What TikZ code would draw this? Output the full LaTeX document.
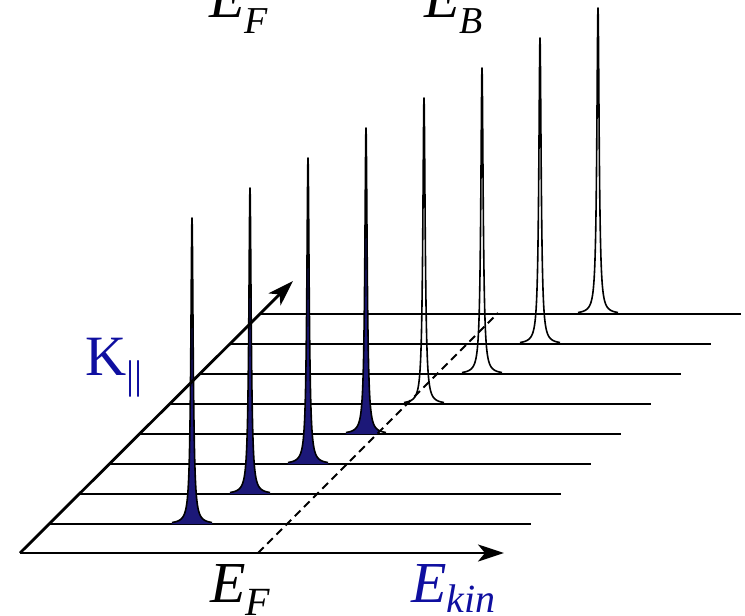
\documentclass[tikz,border=0pt]{standalone}
\usepackage{fontspec}
\setmainfont{Liberation Serif}
\usetikzlibrary{arrows.meta}
\definecolor{peakfill}{RGB}{28,24,120}
\definecolor{labblue}{RGB}{15,15,160}
\newcommand{\mylbl}[4]{{\fontsize{58}{60}\selectfont\itshape #1}\raisebox{#3}{\fontsize{#4}{#4}\selectfont\itshape #2}}
\begin{document}
\begin{tikzpicture}[x=1pt,y=-1pt,
  axis/.style={line width=2.8pt, -{Stealth[length=26pt,width=17pt,inset=7pt]}},
  hline/.style={line width=2pt},
  peakline/.style={line width=1.6pt, line join=round},
  fermi/.style={line width=1.8pt, dash pattern=on 8pt off 5pt},
  lbl/.style={anchor=base west, inner sep=0pt, outer sep=0pt}]
\useasboundingbox (0,0) rectangle (745,616);
\coordinate (O) at (20,553);
\coordinate (Xend) at (504,553);
\coordinate (Kend) at (293,281);
\coordinate (F0) at (258,553);
\coordinate (F1) at (498,313);
% horizontal baselines
\foreach \i in {0,...,7}{
  \draw[hline] ({49+30*\i},{524-30*\i}) -- ++(482,0);
}
% peaks
\foreach \i in {0,...,7}{
  \pgfmathsetmacro\px{192+58*\i}
  \pgfmathsetmacro\py{524-30*\i}
  \ifnum\i<4
    \begin{scope}
      \clip (258,553) -- (858,-47) -- (-400,-47) -- (-400,553) -- cycle;
      \fill[peakfill] ({\px-20},\py) -- plot[domain=-86:86, samples=241, variable=\t] ({\px+1.4*tan(\t)},{\py-306*cos(\t)*cos(\t)}) -- ({\px+20},\py) -- cycle;
    \end{scope}
  \fi
  \draw[peakline] plot[domain=-86:86, samples=241, variable=\t] ({\px+1.4*tan(\t)},{\py-306*cos(\t)*cos(\t)});
}
% Fermi level
\draw[fermi] (F0) -- (F1);
% axes
\draw[axis] (O) -- (Xend);
\draw[axis] (O) -- (Kend);
% labels
\node[lbl] (efbot) at (210,602) {\mylbl{E}{F}{-13pt}{40}};
\node[lbl, text=labblue] (ekin) at (411,602) {\mylbl{E}{kin}{-10pt}{40}};
\node[lbl] (eftop) at (209,17) {\mylbl{E}{F}{-16pt}{38}};
\node[lbl] (ebtop) at (424,17) {\mylbl{E}{B}{-16pt}{38}};
\node[lbl, text=labblue] (klab) at (85,375) {{\fontsize{57}{60}\selectfont K}\raisebox{-13pt}{\fontsize{40}{40}\selectfont ||}};
\end{tikzpicture}
\end{document}
